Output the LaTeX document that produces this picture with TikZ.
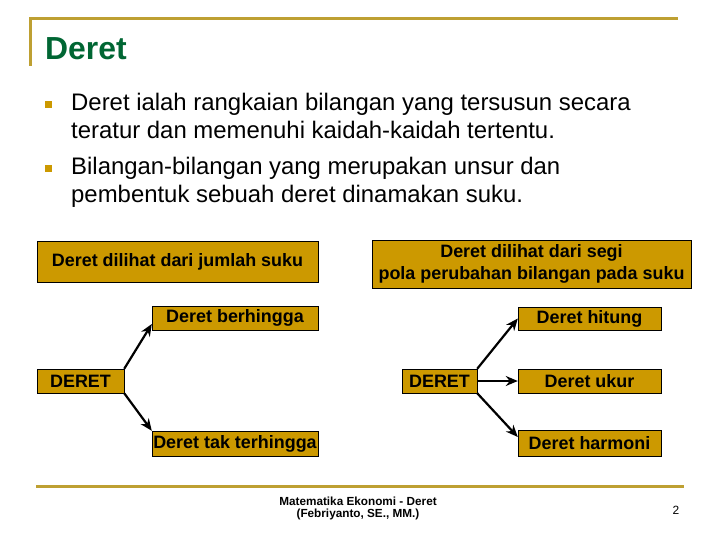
\documentclass[tikz,border=0pt]{standalone}
\usepackage{fontspec}
\setmainfont{Liberation Sans}
\usepackage{tikz}
\usepackage{xcolor}
\usetikzlibrary{arrows.meta}
\definecolor{emas}{RGB}{204,153,0}
\definecolor{garis}{RGB}{190,160,50}
\definecolor{hijau}{RGB}{0,102,51}

\begin{document}
\begin{tikzpicture}[x=1bp, y=-1bp,
    kotak/.style={draw=black, fill=emas, inner sep=0pt, align=center,
        font=\fontsize{18}{22}\selectfont\bfseries},
    panah/.style={-{Stealth[length=12bp,width=10bp]}, line width=2.2bp}]
    \useasboundingbox (0,0) rectangle (720,540);

    % Header lines
    \draw[garis, line width=3bp] (30,66) -- (30,19) -- (678,19);
    \node[anchor=base west, inner sep=0pt, text=hijau, font=\fontsize{32}{38}\selectfont\bfseries] (judul) at (45,60) {Deret};

    % Bullets
    \fill[emas] (45,101) rectangle (52,108);
    \fill[emas] (45,165) rectangle (52,172);
    \node[anchor=base west, inner sep=0pt, align=left, font=\fontsize{24}{29}\selectfont] (poin1) at (71,139)
        {Deret ialah rangkaian bilangan yang tersusun secara\\teratur dan memenuhi kaidah-kaidah tertentu.};
    \node[anchor=base west, inner sep=0pt, align=left, font=\fontsize{24}{29}\selectfont] (poin2) at (71,203)
        {Bilangan-bilangan yang merupakan unsur dan\\pembentuk sebuah deret dinamakan suku.};

    % Left diagram
    \node[kotak, minimum width=281bp, minimum height=41bp] (jumlah) at (177.5,261.5) {Deret dilihat dari jumlah suku};
    \node[kotak, minimum width=87bp, minimum height=24bp] (kiri) at (80.5,381) {DERET};
    \node[kotak, minimum width=166bp, minimum height=24bp] (berhingga) at (235,318) {Deret berhingga};
    \node[kotak, minimum width=166bp, minimum height=25bp] (takhingga) at (235,443.5) {Deret tak terhingga};
    \draw[panah] (kiri.north east) -- ([yshift=-6bp]berhingga.west);
    \draw[panah] (kiri.south east) -- (takhingga.north west);

    % Right diagram
    \node[kotak, minimum width=319bp, minimum height=48bp] (segi) at (531.5,264) {Deret dilihat dari segi\\pola perubahan bilangan pada suku};
    \node[kotak, minimum width=75bp, minimum height=24bp] (kanan) at (439.5,381) {DERET};
    \node[kotak, minimum width=143bp, minimum height=23bp] (hitung) at (589.5,318.5) {Deret hitung};
    \node[kotak, minimum width=143bp, minimum height=24bp] (ukur) at (589.5,381) {Deret ukur};
    \node[kotak, minimum width=143bp, minimum height=26bp] (harmoni) at (589.5,443) {Deret harmoni};
    \draw[panah] (kanan.north east) -- (hitung.west);
    \draw[panah] (kanan.east) -- (ukur.west);
    \draw[panah] (kanan.south east) -- ([yshift=6bp]harmoni.west);

    % Footer
    \draw[garis, line width=3bp] (36,486) -- (684,486);
    \node[anchor=base, inner sep=0pt, align=center, font=\fontsize{11.8}{12}\selectfont\bfseries] (kaki) at (358,517)
        {Matematika Ekonomi - Deret\\(Febriyanto, SE., MM.)};
    \node[anchor=base, inner sep=0pt, font=\fontsize{12}{14}\selectfont] (halaman) at (676,514) {2};
\end{tikzpicture}
\end{document}
